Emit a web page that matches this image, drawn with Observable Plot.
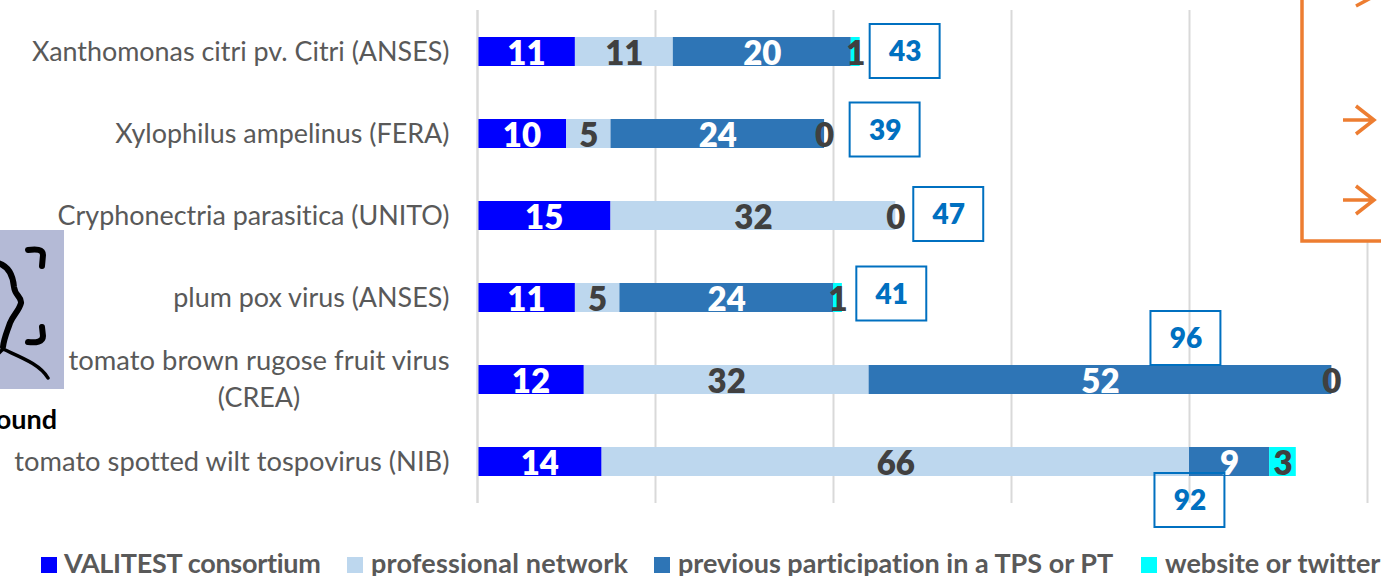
<!DOCTYPE html>
<html><head><meta charset="utf-8">
<script src="https://cdn.jsdelivr.net/npm/d3@7"></script>
<script src="https://cdn.jsdelivr.net/npm/@observablehq/plot@0.6"></script>
<style>
html,body{margin:0;padding:0;background:#fff;overflow:hidden;width:1381px;height:576px}
#wrap{position:relative;width:1381px;height:576px;overflow:hidden;font-family:Lato,sans-serif;font-variant-ligatures:none}
#wrap svg text{font-variant-ligatures:none}
#legend{position:relative;height:26px;width:1381px;white-space:nowrap;font-weight:700;font-size:27px;color:#595959}
#legend span.t{position:absolute;top:0;line-height:26px}
#legend i{position:absolute;top:7px;width:16px;height:16px}
#deco{position:absolute;left:0;top:0;pointer-events:none}
</style></head><body>
<div id="wrap"><div id="chart"></div><div id="legend"></div>
<svg id="deco" width="1381" height="576">
<rect x="-2" y="230" width="66" height="159" fill="#b4bad6"/>
<g fill="none" stroke="#000" stroke-width="6" stroke-linecap="round" stroke-linejoin="round">
<path d="M-2 263C8 266 13 275 14 287C15 296 22 297 21 303C19 311 13 315 10 323C7 332 4 338 3 347"/>
<path d="M3 349C20 357 40 364 48 378M3 349L-2 354" stroke-width="3.5"/>
<path d="M28 250C36 249 43 249 43 255L42 266"/>
<path d="M28 342C36 343 43 342 43 336L42 327"/>
</g>
<text x="57" y="429" text-anchor="end" font-family="Lato" font-weight="700" font-size="27" fill="#000">ound</text>
<rect x="1302" y="-10" width="100" height="251" fill="#fff" stroke="#ed7d31" stroke-width="3.5"/>
<g fill="none" stroke="#ed7d31" stroke-width="3.5">
<path d="M1343 120H1374M1356 106L1374 120L1356 134"/>
<path d="M1343 200H1374M1356 186L1374 200L1356 214"/>
<path d="M1356 -8L1369 -1L1356 6"/>
</g>
</svg>
</div>
<script>
const rows = [
  "Xanthomonas citri pv. Citri (ANSES)",
  "Xylophilus ampelinus (FERA)",
  "Cryphonectria parasitica (UNITO)",
  "plum pox virus (ANSES)",
  "tomato brown rugose fruit virus (CREA)",
  "tomato spotted wilt tospovirus (NIB)"
];
const seriesNames = ["VALITEST consortium","professional network","previous participation in a TPS or PT","website or twitter"];
const seriesColors = ["#0000ff","#bdd7ee","#2e75b6","#00ffff"];
const valitest     = [11,10,15,11,12,14];
const professional = [11, 5,32, 5,32,66];
const previous     = [20,24,null,24,52, 9];
const website      = [ 1, 0, 0, 1, 0, 3];
const totals       = [43,39,47,41,96,92];

const columns = [valitest,professional,previous,website];
const long = [];
rows.forEach((r,i)=>columns.forEach((c,s)=>{ if(c[i]!==null) long.push({row:r,series:seriesNames[s],value:c[i],dark:s%2===1}); }));

// hand placement of the total call-outs (x in axis units, y in pixels from the bar centre)
const calloutX  = [48.05,45.8,52.95,46.55,79.6,80.05];
const calloutDy = [-0.5,-4,-1.5,-4,-41.5,38.5];

const labelSize = 26.9, valueSize = 33, totalSize = 28;
const crea = rows[4], tswv = rows[5];
const singleRows = rows.slice(0,4);

const marks = [
  Plot.ruleX([0,20,40,60,80,100],{stroke:"#d9d9d9",strokeWidth:2}),
  Plot.barX(long,{x:"value",y:"row",fill:"series"}),
  Plot.ruleX([0],{stroke:"#d9d9d9",strokeWidth:2}),
  Plot.text(long,Plot.stackX({x:"value",y:"row",text:d=>String(d.value),fill:d=>d.dark?"#404040":"#ffffff",fontSize:valueSize,fontWeight:800,dy:2})),
  Plot.axisY(singleRows,{tickSize:0,tickPadding:28,fontSize:labelSize,label:null,fill:"#595959"}),
  Plot.axisY([tswv],{tickSize:0,tickPadding:28,fontSize:27.3,label:null,fill:"#595959"}),
  Plot.axisY([crea],{tickSize:0,tickPadding:28,fontSize:27.4,fill:"#595959",label:null,dy:-19,tickFormat:()=>"tomato brown rugose fruit virus"}),
  Plot.axisY([crea],{tickSize:0,tickPadding:0,fontSize:labelSize,fill:"#595959",label:null,dy:18,dx:-218.5,textAnchor:"middle",tickFormat:()=>"(CREA)"})
];
rows.forEach((r,i)=>{
  const d=[{row:r,total:totals[i],cx:calloutX[i]}];
  marks.push(Plot.barX(d,{x1:e=>e.cx-3.93,x2:e=>e.cx+3.93,y:"row",fill:"none",stroke:"#0070c0",strokeWidth:2,insetTop:-12.5,insetBottom:-12.5,dy:calloutDy[i]}));
  marks.push(Plot.text(d,{x:"cx",y:"row",text:e=>String(e.total),fill:"#0070c0",fontWeight:800,fontSize:totalSize,dy:calloutDy[i]+1}));
});

const plot = Plot.plot({
  width:1381,height:550,
  marginLeft:477,marginRight:14,marginTop:10,marginBottom:47,
  style:{fontFamily:"Lato, sans-serif",background:"transparent",overflow:"visible"},
  x:{domain:[0,100],axis:null},
  y:{domain:rows,paddingInner:0.645,paddingOuter:0.3225,axis:null,label:null},
  color:{domain:seriesNames,range:seriesColors},
  marks
});
document.getElementById("chart").appendChild(plot);

const lg=document.getElementById("legend");
const swatchX=[41,347,654,1141], textX=[64,371,678,1165], tracking=[-0.3,0.2,0,0];
seriesNames.forEach((n,i)=>{
  const sw=document.createElement("i");sw.style.left=swatchX[i]+"px";sw.style.background=seriesColors[i];lg.appendChild(sw);
  const t=document.createElement("span");t.className="t";t.style.left=textX[i]+"px";t.style.letterSpacing=tracking[i]+"px";t.textContent=n;lg.appendChild(t);
});
</script>
</body></html>
